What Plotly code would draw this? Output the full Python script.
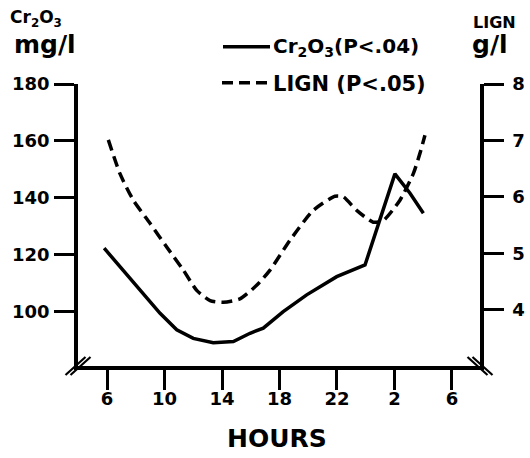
import plotly.graph_objects as go

# ---- data (hours on a continuous clock: 24 = midnight, 26 = 2 h, 30 = 6 h next day)
cr_hours = [5.8, 7.13, 8.53, 9.69, 10.85, 12.0, 13.39, 14.79, 15.95, 16.87,
            18.26, 19.89, 21.98, 23.95, 26.03, 27.08, 28.01]
cr_values = [122.3, 114.6, 106.5, 99.4, 93.6, 90.6, 89.1, 89.5, 92.4, 94.2,
             100.0, 105.9, 112.3, 116.4, 148.4, 141.6, 134.6]

lign_hours = [6.09, 6.9, 7.83, 8.99, 10.15, 11.31, 12.24, 13.17, 14.09, 15.25,
              16.41, 17.34, 18.73, 20.35, 21.86, 22.44, 23.37, 24.52, 25.22,
              26.38, 27.31, 27.77, 28.12]
lign_values = [7.01, 6.41, 5.94, 5.53, 5.11, 4.70, 4.34, 4.16, 4.13, 4.19,
               4.43, 4.70, 5.23, 5.76, 6.01, 6.00, 5.76, 5.55, 5.58,
               5.94, 6.41, 6.77, 7.09]

x_tickvals = [6, 10, 14, 18, 22, 26, 30]
x_ticktext = ["6", "10", "14", "18", "22", "2", "6"]
left_ticks = [100, 120, 140, 160, 180]
right_ticks = [4, 5, 6, 7, 8]

FONT = "DejaVu Sans"
BLACK = "#000000"

fig = go.Figure()
fig.add_trace(go.Scatter(x=cr_hours, y=cr_values, mode="lines",
                         line=dict(color=BLACK, width=3.5), showlegend=False,
                         yaxis="y"))
fig.add_trace(go.Scatter(x=lign_hours, y=lign_values, mode="lines",
                         line=dict(color=BLACK, width=3.5, dash="11px,6px",
                                   shape="spline", smoothing=0.6),
                         showlegend=False, yaxis="y2"))

axis_common = dict(showgrid=False, zeroline=False, showline=True, linecolor=BLACK,
                   linewidth=3.5, ticks="outside", ticklen=20, tickwidth=2.5,
                   tickcolor=BLACK, automargin=False,
                   tickfont=dict(family=FONT, size=18, color=BLACK, weight="bold"))

fig.update_layout(
    template="none",
    width=530, height=458,
    margin=dict(l=78, r=50, t=84, b=92),
    paper_bgcolor="white", plot_bgcolor="white",
    xaxis=dict(range=[3.98, 31.95], tickvals=x_tickvals, ticktext=x_ticktext,
               ticklabelstandoff=-6, **axis_common),
    yaxis=dict(range=[80.9, 180], tickvals=left_ticks, ticklabelstandoff=1,
               **axis_common),
    yaxis2=dict(range=[3, 8], tickvals=right_ticks, overlaying="y", side="right",
                ticklabelstandoff=5, **axis_common),
)


def px(xp):
    return (xp - 78) / 402


def py(yp):
    return (366 - yp) / 282


def txt(s, x, y, size, xanchor="left"):
    fig.add_annotation(text=s, x=px(x), y=py(y), xref="paper", yref="paper",
                       xanchor=xanchor, yanchor="middle", showarrow=False,
                       font=dict(family=FONT, size=size, color=BLACK, weight="bold"))


txt("Cr<sub>2</sub>O<sub>3</sub>", 8, 19, 17)
txt("mg/l", 12, 44, 25)
txt("LIGN", 471, 22, 16)
txt("g/l", 470, 44, 25)
txt("HOURS", 277, 439, 25, xanchor="center")
txt("Cr<sub>2</sub>O<sub>3</sub>(P&lt;.04)", 271, 47, 20)
txt("LIGN (P&lt;.05)", 271, 84, 21)

# legend sample lines
fig.add_shape(type="line", xref="paper", yref="paper", x0=px(223), x1=px(270),
              y0=py(46.7), y1=py(46.7), line=dict(color=BLACK, width=3.5))
fig.add_shape(type="line", xref="paper", yref="paper", x0=px(222), x1=px(270),
              y0=py(82.7), y1=py(82.7), line=dict(color=BLACK, width=3.5, dash="11px,6px"))

# axis-break marks at the two bottom corners
for xa, sign in [(0, 1), (1, -1)]:
    for off in (-2.5, 2.5):
        fig.add_shape(type="line", xref="paper", yref="paper",
                      xsizemode="pixel", ysizemode="pixel", xanchor=xa, yanchor=0,
                      x0=-10 * sign + off, x1=10 * sign + off, y0=-9, y1=9,
                      line=dict(color=BLACK, width=2.2))

fig.write_html("out.html", config={"displayModeBar": False},
               post_script="document.body.style.margin='0';"
                           "document.body.style.overflow='hidden';")
